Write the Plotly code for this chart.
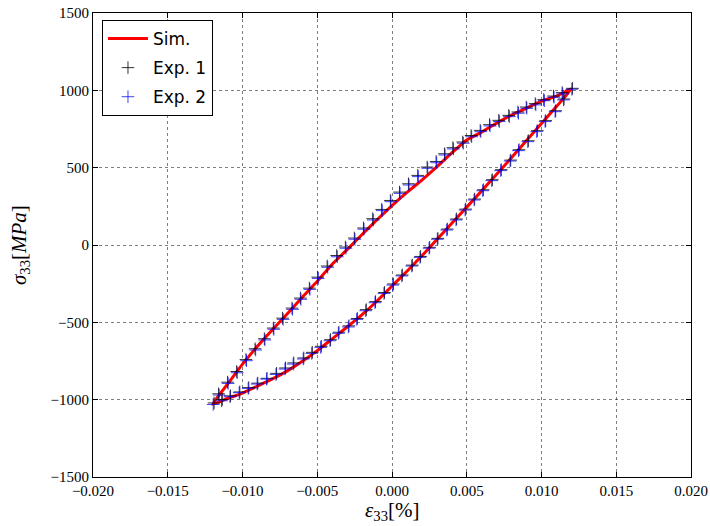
import plotly.graph_objects as go

# Simulation loop (strain, stress): lower branch (loading) then upper branch (unloading)
sim_x = [-0.0120, -0.0110, -0.0100, -0.0090, -0.0080, -0.0070, -0.0060, -0.0050, -0.0040,
         -0.0030, -0.0020, -0.0010, 0.0000, 0.0010, 0.0020, 0.0030, 0.0040, 0.0050,
         0.0060, 0.0070, 0.0080, 0.0090, 0.0100, 0.0110, 0.0120,
         0.0110, 0.0100, 0.0090, 0.0080, 0.0070, 0.0060, 0.0050, 0.0040, 0.0030,
         0.0020, 0.0010, 0.0000, -0.0010, -0.0020, -0.0030, -0.0040, -0.0050, -0.0060,
         -0.0070, -0.0080, -0.0090, -0.0100, -0.0110, -0.0120]
sim_y = [-1030, -992, -957, -912, -866, -814, -752, -683, -607,
         -530, -450, -362, -265, -170, -70, 35, 140, 245,
         350, 458, 565, 675, 785, 895, 1010,
         962, 930, 885, 840, 788, 730, 679, 595, 505,
         420, 340, 255, 163, 68, -30, -125, -235, -338,
         -445, -548, -655, -770, -900, -1030]

# Experiment 2 (blue)
exp2_x = [-0.01196, -0.01140, -0.01084, -0.01022, -0.00962, -0.00902, -0.00839, -0.00776,
          -0.00716, -0.00661, -0.00594, -0.00537, -0.00477, -0.00415, -0.00359, -0.00292,
          -0.00236, -0.00176, -0.00114, -0.00054, 0.00005, 0.00065, 0.00132, 0.00187,
          0.00248, 0.00303, 0.00366, 0.00428, 0.00489, 0.00549, 0.00607, 0.00667, 0.00727,
          0.00790, 0.00846, 0.00908, 0.00968, 0.01024, 0.01091, 0.01147, 0.01203,
          0.01142, 0.01084, 0.01019, 0.00962, 0.00902, 0.00846, 0.00785, 0.00718, 0.00656,
          0.00594, 0.00533, 0.00477, 0.00411, 0.00355, 0.00299, 0.00239, 0.00176, 0.00114,
          0.00054, -0.00007, -0.00065, -0.00125, -0.00187, -0.00248, -0.00308, -0.00366,
          -0.00430, -0.00493, -0.00549, -0.00609, -0.00665, -0.00728, -0.00790, -0.00850,
          -0.00912, -0.00973, -0.01035, -0.01096, -0.01156]
exp2_y = [-1031, -1007, -981, -955, -927, -899, -867, -837,
          -802, -770, -737, -701, -662, -619, -571, -530,
          -481, -425, -373, -313, -259, -200, -136, -80,
          -21, 37, 97, 162, 226, 291, 351, 416, 481,
          543, 610, 668, 733, 798, 862, 938, 1007,
          977, 955, 933, 906, 884, 852, 830, 798, 770,
          733, 700, 658, 621, 582, 532, 496, 442, 388,
          334, 280, 222, 162, 102, 37, -21, -76,
          -144, -216, -287, -351, -416, -481, -545, -614,
          -679, -748, -826, -895, -970]

# Experiment 1 (black), nearly coincident with experiment 2
exp1_x = [-0.01190, -0.01135, -0.01080, -0.01018, -0.00958, -0.00898, -0.00836, -0.00772,
          -0.00712, -0.00657, -0.00590, -0.00533, -0.00473, -0.00411, -0.00355, -0.00288,
          -0.00232, -0.00172, -0.00110, -0.00050, 0.00009, 0.00069, 0.00136, 0.00191,
          0.00252, 0.00307, 0.00370, 0.00432, 0.00493, 0.00553, 0.00611, 0.00671, 0.00731,
          0.00794, 0.00850, 0.00912, 0.00972, 0.01028, 0.01095, 0.01151, 0.01207,
          0.01138, 0.01080, 0.01015, 0.00958, 0.00898, 0.00842, 0.00781, 0.00714, 0.00652,
          0.00590, 0.00529, 0.00473, 0.00407, 0.00351, 0.00295, 0.00235, 0.00172, 0.00110,
          0.00050, -0.00011, -0.00069, -0.00129, -0.00191, -0.00252, -0.00312, -0.00370,
          -0.00434, -0.00497, -0.00553, -0.00613, -0.00669, -0.00732, -0.00794, -0.00854,
          -0.00916, -0.00977, -0.01039, -0.01100, -0.01160]
exp1_y = [-1021, -999, -975, -950, -922, -893, -862, -830,
          -795, -762, -730, -694, -655, -612, -564, -523,
          -475, -418, -366, -307, -252, -194, -130, -74,
          -15, 43, 103, 168, 232, 297, 357, 422, 487,
          549, 616, 674, 739, 804, 868, 944, 1013,
          985, 963, 940, 914, 892, 860, 838, 806, 778,
          741, 708, 666, 629, 590, 540, 504, 450, 396,
          342, 288, 230, 170, 110, 45, -13, -68,
          -136, -208, -279, -343, -408, -473, -537, -606,
          -671, -740, -818, -887, -962]

x_ticks = [-0.020, -0.015, -0.010, -0.005, 0.000, 0.005, 0.010, 0.015, 0.020]
y_ticks = [-1500, -1000, -500, 0, 500, 1000, 1500]

SERIF = "Liberation Serif, DejaVu Serif, serif"

fig = go.Figure()
fig.add_trace(go.Scatter(x=sim_x, y=sim_y, mode="lines", name="Sim.", legendgroup="a",
                         line=dict(color="#ff0000", width=3, shape="spline", smoothing=0.5)))
fig.add_trace(go.Scatter(x=exp1_x, y=exp1_y, mode="markers", name="Exp. 1", legendgroup="b",
                         marker=dict(symbol="cross-thin", size=9,
                                     line=dict(color="rgba(0,0,0,0.8)", width=1), color="black")))
fig.add_trace(go.Scatter(x=exp2_x, y=exp2_y, mode="markers", name="Exp. 2", legendgroup="c",
                         marker=dict(symbol="cross-thin", size=9,
                                     line=dict(color="rgba(0,0,255,0.75)", width=1),
                                     color="blue")))

axis_common = dict(
    showline=True, linecolor="black", linewidth=1, mirror="allticks",
    ticks="inside", ticklen=5, tickcolor="black",
    showgrid=True, gridcolor="rgba(0,0,0,0.5)", griddash="dot", gridwidth=1,
    zeroline=False, automargin=False,
    tickfont=dict(family=SERIF, size=15, color="black"),
)

fig.update_layout(
    width=710, height=526,
    margin=dict(l=93, r=19, t=13, b=49),
    paper_bgcolor="white", plot_bgcolor="white",
    xaxis=dict(range=[-0.02, 0.02], tickvals=x_ticks, tickformat=".3f", **axis_common),
    yaxis=dict(range=[-1500, 1500], tickvals=y_ticks, **axis_common),
    legend=dict(x=0.015, y=0.985, xanchor="left", yanchor="top",
                bordercolor="black", borderwidth=1, bgcolor="white",
                font=dict(family="DejaVu Sans, sans-serif", size=17, color="black"),
                itemwidth=40, tracegroupgap=4),
    showlegend=True,
    annotations=[
        dict(text="<i>ε</i><sub>33</sub>[%]", xref="paper", yref="paper",
             x=0.5, y=0, yshift=-19, xanchor="center", yanchor="top", showarrow=False,
             font=dict(family=SERIF, size=21, color="black")),
        dict(text="<i>σ</i><sub>33</sub>[<i>MPa</i>]", xref="paper", yref="paper",
             x=0, y=0.5, xshift=-73, xanchor="center", yanchor="middle", showarrow=False,
             textangle=-90, font=dict(family=SERIF, size=21, color="black")),
    ],
)

fig.write_html("out.html", config={"displayModeBar": False},
               post_script="document.body.style.margin='0';")
